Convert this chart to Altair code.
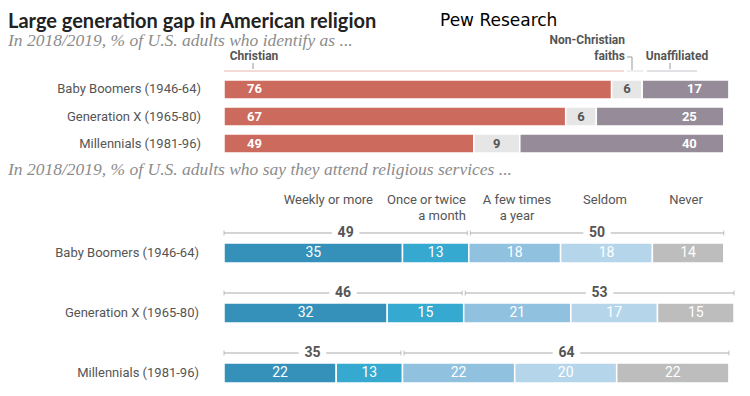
import altair as alt
import pandas as pd

# ---------------- data ----------------
gens = ["Baby Boomers (1946-64)", "Generation X (1965-80)", "Millennials (1981-96)"]

rel_cats = ["Christian", "Non-Christian faiths", "Unaffiliated"]
christian = [76, 67, 49]
non_christian = [6, 6, 9]
unaffiliated = [17, 25, 40]

att_cats = ["Weekly or more", "Once or twice a month", "A few times a year", "Seldom", "Never"]
weekly = [35, 32, 22]
monthly = [13, 15, 13]
few_times = [18, 21, 22]
seldom = [18, 17, 20]
never = [14, 15, 22]
monthly_or_more = [49, 46, 35]
less_often = [50, 53, 64]

rel_colors = ["#CD6A5E", "#E6E6E6", "#958B99"]
att_colors = ["#3591B9", "#35A9CF", "#90C1DF", "#B5D6EA", "#BDBDBD"]

# ---------------- tables ----------------
def stack(series_list, cats):
    rows = []
    for gi, g in enumerate(gens):
        start = 0
        for ci, c in enumerate(cats):
            v = series_list[ci][gi]
            rows.append({"gen": g, "cat": c, "value": v, "start": start,
                         "end": start + v, "mid": start + v / 2})
            start += v
    return pd.DataFrame(rows)

rel_df = stack([christian, non_christian, unaffiliated], rel_cats)
att_df = stack([weekly, monthly, few_times, seldom, never], att_cats)

GAP = 2.7
br_rows = []
for gi, g in enumerate(gens):
    split = weekly[gi] + monthly[gi]
    total = weekly[gi] + monthly[gi] + few_times[gi] + seldom[gi] + never[gi]
    for (a, b, lab) in [(0, split - 0.3, monthly_or_more[gi]), (split + 0.3, total, less_often[gi])]:
        m = (a + b) / 2
        br_rows.append({"gen": g, "a": a, "b": b, "mid": m, "l1": m - GAP, "r1": m + GAP, "label": str(lab)})
br_df = pd.DataFrame(br_rows)
ticks_df = pd.concat([br_df[["gen"]].assign(x=br_df["a"]), br_df[["gen"]].assign(x=br_df["b"])])

W, H = 510, 388

def xs(field):
    return alt.X(field, scale=alt.Scale(domain=[0, 100], nice=False, zero=True), axis=None)

def y_top():
    return alt.Y("gen:N", sort=gens, axis=None,
                 scale=alt.Scale(type="band", domain=gens, range=[72, 145],
                                 paddingInner=0.3, paddingOuter=0))

def y_bot():
    return alt.Y("gen:N", sort=gens, axis=None,
                 scale=alt.Scale(type="band", domain=gens, range=[235, 375],
                                 paddingInner=0.667, paddingOuter=0))

one = pd.DataFrame({"k": [0]})

def note(text, px, py, size=13, color="#555", align="left", weight="normal",
         font="Roboto", style="normal", lh=16):
    return alt.Chart(one).mark_text(
        text=text, align=align, baseline="middle", fontSize=size, color=color,
        fontWeight=weight, font=font, fontStyle=style, lineHeight=lh
    ).encode(x=alt.value(px - 224), y=alt.value(py - 8))

def hline(x1, x2, py, color):
    return alt.Chart(one).mark_rule(color=color, strokeWidth=1).encode(
        x=alt.value(x1 - 224), x2=alt.value(x2 - 224), y=alt.value(py - 8))

def vline(px, y1, y2, color):
    return alt.Chart(one).mark_rule(color=color, strokeWidth=1).encode(
        x=alt.value(px - 224), y=alt.value(y1 - 8), y2=alt.value(y2 - 8))

# ---------------- top section ----------------
top_bars = alt.Chart(rel_df).mark_bar(stroke="white", strokeWidth=1.5).encode(
    x=xs("start:Q"), x2="end:Q", y=y_top(),
    color=alt.Color("cat:N", scale=alt.Scale(domain=rel_cats, range=rel_colors), legend=None))

top_lab_c = alt.Chart(rel_df[rel_df.cat == "Christian"]).mark_text(
    align="left", dx=23, color="white", fontWeight="bold", fontSize=13, font="Roboto").encode(
    x=xs("start:Q"), y=y_top(), text="value:Q")
top_lab_n = alt.Chart(rel_df[rel_df.cat == "Non-Christian faiths"]).mark_text(
    align="center", color="#555", fontWeight="bold", fontSize=13, font="Roboto").encode(
    x=xs("mid:Q"), y=y_top(), text="value:Q")
top_lab_u = alt.Chart(rel_df[rel_df.cat == "Unaffiliated"]).mark_text(
    align="right", dx=-27, color="white", fontWeight="bold", fontSize=13, font="Roboto").encode(
    x=xs("end:Q"), y=y_top(), text="value:Q")
top_rows = alt.Chart(pd.DataFrame({"gen": gens})).mark_text(
    align="right", color="#555", fontSize=13, font="Roboto").encode(
    x=alt.value(201 - 224), y=y_top(), text="gen:N")

# ---------------- bottom section ----------------
bot_bars = alt.Chart(att_df).mark_bar(stroke="white", strokeWidth=1.5).encode(
    x=xs("start:Q"), x2="end:Q", y=y_bot(),
    color=alt.Color("cat:N", scale=alt.Scale(domain=att_cats, range=att_colors), legend=None))
bot_lab = alt.Chart(att_df).mark_text(
    align="center", color="white", fontSize=14, font="Roboto").encode(
    x=xs("mid:Q"), y=y_bot(), text="value:Q")
bot_rows = alt.Chart(pd.DataFrame({"gen": gens})).mark_text(
    align="right", color="#555", fontSize=13, font="Roboto").encode(
    x=alt.value(199 - 224), y=y_bot(), text="gen:N")

br_left = alt.Chart(br_df).mark_rule(color="#AAAAAA", strokeWidth=1, yOffset=-20).encode(
    x=xs("a:Q"), x2="l1:Q", y=y_bot())
br_right = alt.Chart(br_df).mark_rule(color="#AAAAAA", strokeWidth=1, yOffset=-20).encode(
    x=xs("r1:Q"), x2="b:Q", y=y_bot())
br_ticks = alt.Chart(ticks_df).mark_tick(color="#AAAAAA", thickness=1, size=5, yOffset=-20,
                                          orient="vertical").encode(
    x=xs("x:Q"), y=y_bot())
br_text = alt.Chart(br_df).mark_text(
    align="center", color="#555", fontWeight="bold", fontSize=14, font="Roboto", yOffset=-20).encode(
    x=xs("mid:Q"), y=y_bot(), text="label:N")

# ---------------- annotations ----------------
notes = [
    note("Large generation gap in American religion", 8, 22, size=20, color="#222",
         weight="bold", font="Lato"),
    note("Pew Research", 440, 21, size=17, color="#000", font="DejaVu Sans"),
    note("In 2018/2019, % of U.S. adults who identify as ...", 8, 41, size=17.5, color="#8C8C8C",
         font="Liberation Serif", style="italic"),
    note("Christian", 254, 56, size=12, color="#555", weight="bold", align="center"),
    note("Non-Christian", 625, 40, size=12, color="#555", weight="bold", align="right"),
    note("faiths", 625, 56, size=12, color="#555", weight="bold", align="right"),
    note("Unaffiliated", 677, 56, size=12, color="#555", weight="bold", align="center"),
    hline(224, 624, 71, "#E9B5AE"),
    vline(253, 63, 69, "#999"),
    hline(627, 643, 71, "#DDDDDD"),
    hline(627, 632, 57, "#999"),
    vline(632, 57, 70, "#999"),
    hline(647, 697, 71, "#C8C2CC"),
    vline(670, 63, 69, "#999"),
    note("In 2018/2019, % of U.S. adults who say they attend religious services ...", 8, 170,
         size=17.5, color="#8C8C8C", font="Liberation Serif", style="italic"),
    note("Weekly or more", 373, 200, size=13, align="right"),
    note(["Once or twice", "a month"], 466, 200, size=13, align="right"),
    note(["A few times", "a year"], 517, 200, size=13, align="center"),
    note("Seldom", 605, 200, size=13, align="center"),
    note("Never", 686, 200, size=13, align="center"),
]

chart = alt.layer(
    top_bars, top_lab_c, top_lab_n, top_lab_u, top_rows,
    bot_bars, bot_lab, bot_rows, br_left, br_right, br_ticks, br_text,
    *notes
).resolve_scale(y="independent", color="independent").properties(
    width=W, height=H,
    autosize=alt.AutoSizeParams(type="none"),
    padding={"left": 216, "top": 0, "right": 8, "bottom": 0},
).configure_view(stroke=None)

chart.save("out.html", embed_options={"renderer": "svg", "actions": False})
